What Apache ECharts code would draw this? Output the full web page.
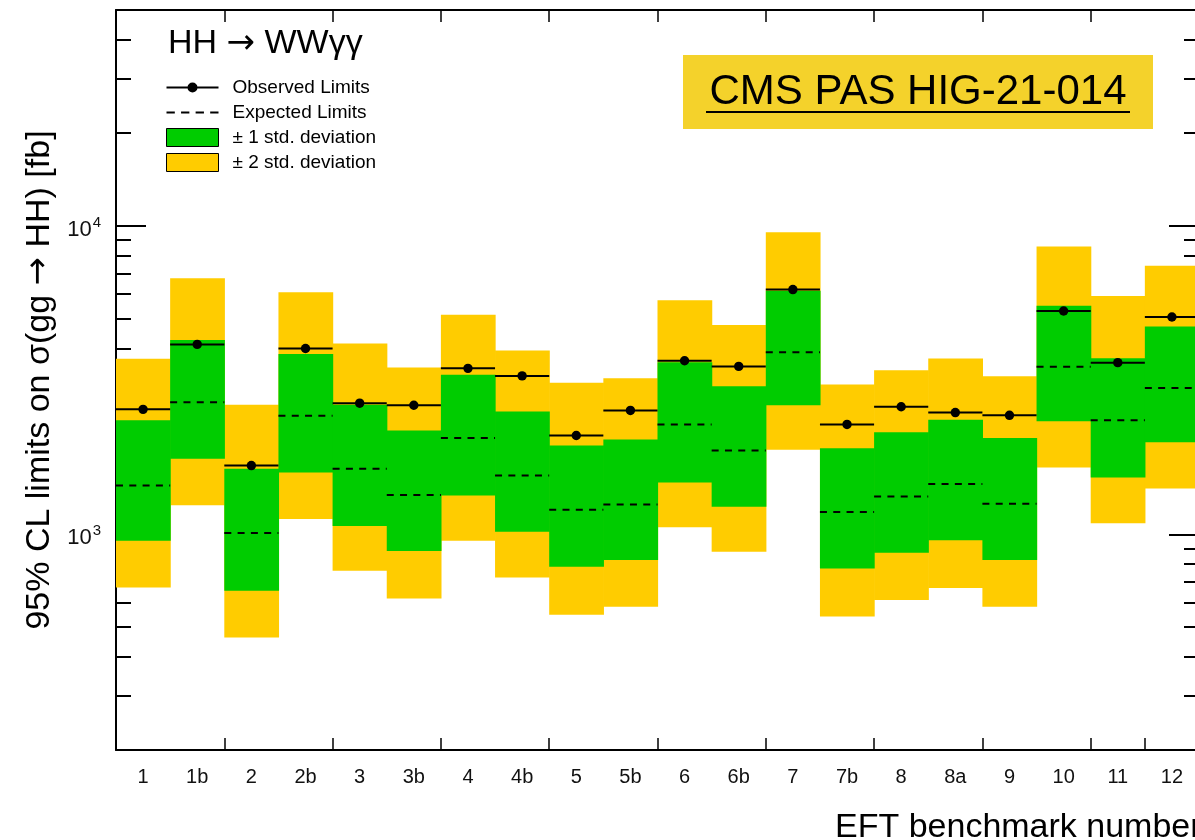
<!DOCTYPE html>
<html>
<head>
<meta charset="utf-8">
<script src="https://cdn.jsdelivr.net/npm/echarts@6/dist/echarts.min.js"></script>
<style>
  html, body { margin: 0; padding: 0; background: #fff; }
  #chart { width: 1195px; height: 840px; }
</style>
</head>
<body>
<div id="chart"></div>
<script>
// ---- Data ----
const categories = ['1','1b','2','2b','3','3b','4','4b','5','5b','6','6b','7','7b','8','8a','9','10','11','12'];
const observed   = [2540, 4125, 1670, 4000, 2660, 2620, 3450, 3260, 2090, 2520, 3650, 3500, 6210, 2270, 2590, 2480, 2430, 5290, 3600, 5060];
const expected   = [1440, 2680, 1010, 2420, 1630, 1340, 2050, 1550, 1200, 1250, 2270, 1870, 3890, 1180, 1325, 1455, 1255, 3490, 2340, 2980];
const sigma1Up   = [2340, 4260, 1630, 3840, 2630, 2170, 3290, 2500, 1940, 2030, 3610, 3020, 6150, 1900, 2140, 2350, 2050, 5500, 3720, 4710];
const sigma1Down = [953, 1757, 656, 1586, 1064, 883, 1335, 1020, 785, 825, 1472, 1229, 2620, 775, 871, 956, 825, 2323, 1528, 1986];
const sigma2Up   = [3706, 6760, 2627, 6090, 4150, 3470, 5150, 3940, 3100, 3205, 5730, 4770, 9520, 3060, 3400, 3715, 3250, 8570, 5920, 7410];
const sigma2Down = [672, 1243, 463, 1121, 762, 619, 953, 725, 549, 582, 1054, 878, 1879, 542, 612, 670, 582, 1646, 1086, 1407];
const yMajorTicks = [1000, 10000];
const yMinorTicks = [300, 400, 500, 600, 700, 800, 900, 2000, 3000, 4000, 5000, 6000, 7000, 8000, 9000, 20000, 30000, 40000];

const FONT = "'Liberation Sans', Arial, Helvetica, sans-serif";
const ARROW_FONT = "'DejaVu Sans', sans-serif";
const GREEN = '#00CC00';
const YELLOW = '#FFCC00';

function bandData(lo, hi) { return categories.map((c, i) => [i, lo[i], hi[i]]); }
function lineData(v) { return categories.map((c, i) => [i, v[i]]); }

function bandRender(color) {
  return function (params, api) {
    const x = api.value(0);
    const top = api.coord([x, api.value(2)]);
    const bot = api.coord([x, api.value(1)]);
    const w = api.size([1, 0])[0];
    return {
      type: 'rect',
      shape: { x: top[0] - w / 2, y: top[1], width: w + 0.6, height: bot[1] - top[1] },
      style: { fill: color, stroke: null }
    };
  };
}

function expectedRender(params, api) {
  const x = api.value(0);
  const p = api.coord([x, api.value(1)]);
  const w = api.size([1, 0])[0];
  return {
    type: 'line',
    shape: { x1: p[0] - w / 2, y1: p[1], x2: p[0] + w / 2, y2: p[1] },
    style: { stroke: '#000', lineWidth: 2, lineDash: [7, 6.3] }
  };
}

function observedRender(params, api) {
  const x = api.value(0);
  const p = api.coord([x, api.value(1)]);
  const w = api.size([1, 0])[0];
  return {
    type: 'group',
    children: [
      { type: 'line', shape: { x1: p[0] - w / 2, y1: p[1], x2: p[0] + w / 2, y2: p[1] }, style: { stroke: '#000', lineWidth: 2 } },
      { type: 'circle', shape: { cx: p[0], cy: p[1], r: 4.7 }, style: { fill: '#000' } }
    ]
  };
}

function expLabel(v) {
  const e = Math.round(Math.log10(v));
  return '{b|10}{s|' + e + '}';
}

const logAxisBase = { type: 'log', logBase: 10, min: 200, max: 50000, gridIndex: 0, splitLine: { show: false } };

const option = {
  animation: false,
  backgroundColor: '#fff',
  textStyle: { fontFamily: FONT },
  grid: { left: 116, top: 10, width: 1083, height: 740, outerBoundsMode: 'none', containLabel: false },
  legend: {
    orient: 'vertical',
    left: 166,
    top: 78,
    padding: 0,
    itemWidth: 52,
    itemHeight: 18,
    itemGap: 6,
    selectedMode: false,
    textStyle: { fontSize: 19, color: '#000', fontFamily: FONT, padding: [0, 0, 0, 9] },
    data: [
      { name: 'Observed Limits', icon: 'path://M0,4h52v2h-52z M21,5a5,5 0 1,1 10,0a5,5 0 1,1 -10,0z' },
      { name: 'Expected Limits', icon: 'path://M0,0h8v2h-8z M14,0h8v2h-8z M28,0h8v2h-8z M42,0h8v2h-8z' },
      { name: '± 1 std. deviation', icon: 'rect', itemStyle: { color: GREEN, borderColor: '#000', borderWidth: 1 } },
      { name: '± 2 std. deviation', icon: 'rect', itemStyle: { color: YELLOW, borderColor: '#000', borderWidth: 1 } }
    ]
  },
  xAxis: [
    {
      type: 'category', data: categories, position: 'bottom', boundaryGap: true,
      name: 'EFT benchmark number', nameLocation: 'end', nameGap: -364,
      nameTextStyle: { fontSize: 34, color: '#000', align: 'left', verticalAlign: 'top', padding: [61, 0, 0, 0] },
      axisLine: { show: true, lineStyle: { color: '#000', width: 2 } },
      axisTick: { show: true, inside: true, length: 12, interval: 1, lineStyle: { color: '#000', width: 1.5 } },
      axisLabel: { show: true, interval: 0, fontSize: 20, color: '#111', margin: 17 },
      splitLine: { show: false }
    },
    {
      type: 'category', data: categories, position: 'top', boundaryGap: true,
      axisLine: { show: true, lineStyle: { color: '#000', width: 2 } },
      axisTick: { show: true, inside: true, length: 12, interval: 1, lineStyle: { color: '#000', width: 1.5 } },
      axisLabel: { show: false },
      splitLine: { show: false }
    }
  ],
  yAxis: [
    Object.assign({}, logAxisBase, {
      position: 'left',
      name: '95% CL limits on σ(gg {ar|→} HH) [fb]',
      nameLocation: 'middle', nameGap: 57,
      nameTextStyle: {
        fontSize: 34, color: '#000',
        rich: { ar: { fontSize: 34, fontFamily: ARROW_FONT, color: '#000' } }
      },
      axisLine: { show: true, lineStyle: { color: '#000', width: 2 } },
      axisTick: { show: true, inside: true, length: 30, customValues: yMajorTicks, lineStyle: { color: '#000', width: 2 } },
      axisLabel: {
        show: true, customValues: yMajorTicks, margin: 15, formatter: expLabel,
        rich: {
          b: { fontSize: 22, color: '#111', fontFamily: FONT, padding: [8, 0, 0, 0] },
          s: { fontSize: 15, color: '#111', fontFamily: FONT, padding: [0, 0, 6, 1] }
        }
      }
    }),
    Object.assign({}, logAxisBase, {
      position: 'left',
      axisLine: { show: false },
      axisTick: { show: true, inside: true, length: 15, customValues: yMinorTicks, lineStyle: { color: '#000', width: 2 } },
      axisLabel: { show: false }
    }),
    Object.assign({}, logAxisBase, {
      position: 'right',
      axisLine: { show: true, lineStyle: { color: '#000', width: 2 } },
      axisTick: { show: true, inside: true, length: 30, customValues: yMajorTicks, lineStyle: { color: '#000', width: 2 } },
      axisLabel: { show: false }
    }),
    Object.assign({}, logAxisBase, {
      position: 'right',
      axisLine: { show: false },
      axisTick: { show: true, inside: true, length: 15, customValues: yMinorTicks, lineStyle: { color: '#000', width: 2 } },
      axisLabel: { show: false }
    })
  ],
  series: [
    {
      name: '± 2 std. deviation', type: 'custom', xAxisIndex: 0, yAxisIndex: 0,
      itemStyle: { color: YELLOW },
      encode: { x: 0, y: [1, 2] },
      renderItem: bandRender(YELLOW), data: bandData(sigma2Down, sigma2Up), z: 1
    },
    {
      name: '± 1 std. deviation', type: 'custom', xAxisIndex: 0, yAxisIndex: 0,
      itemStyle: { color: GREEN },
      encode: { x: 0, y: [1, 2] },
      renderItem: bandRender(GREEN), data: bandData(sigma1Down, sigma1Up), z: 2
    },
    {
      name: 'Expected Limits', type: 'custom', xAxisIndex: 0, yAxisIndex: 0,
      itemStyle: { color: '#000' },
      encode: { x: 0, y: 1 },
      renderItem: expectedRender, data: lineData(expected), z: 3
    },
    {
      name: 'Observed Limits', type: 'custom', xAxisIndex: 0, yAxisIndex: 0,
      itemStyle: { color: '#000' },
      encode: { x: 0, y: 1 },
      renderItem: observedRender, data: lineData(observed), z: 4
    }
  ],
  graphic: [
    {
      type: 'text', left: 168, top: 27, z: 10,
      style: {
        text: '{t|HH }{ar|→}{t| WWγγ}',
        rich: {
          t: { fontSize: 34, fill: '#000', fontFamily: FONT },
          ar: { fontSize: 34, fill: '#000', fontFamily: ARROW_FONT }
        }
      }
    },
    {
      type: 'group', z: 10,
      children: [
        { type: 'rect', shape: { x: 683, y: 55, width: 470, height: 74 }, style: { fill: '#F4D22B' } },
        { type: 'text', x: 918, y: 92, style: { text: 'CMS PAS HIG-21-014', fontSize: 42, fill: '#000', fontFamily: FONT, align: 'center', verticalAlign: 'middle' } },
        { type: 'line', shape: { x1: 706, y1: 112, x2: 1130, y2: 112 }, style: { stroke: '#000', lineWidth: 2 } }
      ]
    }
  ]
};

const chart = echarts.init(document.getElementById('chart'), null, { renderer: 'canvas' });
chart.setOption(option);
</script>
</body>
</html>
